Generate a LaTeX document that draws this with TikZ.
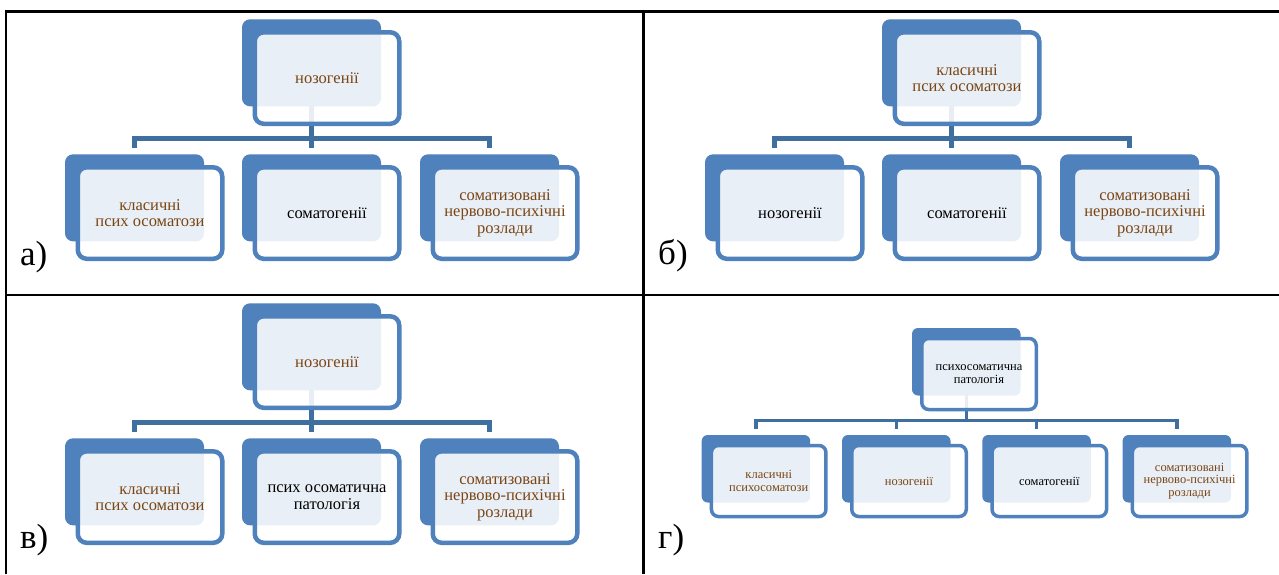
\documentclass[tikz,border=0pt]{standalone}
\usepackage{fontspec}
\setmainfont{Liberation Serif}
\definecolor{sblue}{HTML}{4F81BD}
\definecolor{cblue}{HTML}{3F6F9F}
\definecolor{brn}{HTML}{7A4514}
\newcommand\txtA{\fontsize{16.5}{16.7}\selectfont}
\newcommand\txtB{\fontsize{12.5}{12.4}\selectfont}
\newcommand\labf{\fontsize{35}{35}\selectfont}
\pgfdeclarelayer{paper}
\pgfdeclarelayer{wires}
\pgfsetlayers{paper,wires,main}
\begin{document}
\begin{tikzpicture}[x=1pt,y=-1pt,
  bkA/.style={rectangle, rounded corners=8pt, fill=sblue, draw=none, inner sep=0pt, outer sep=0pt,
    minimum width=139pt, minimum height=87pt, anchor=north west},
  frA/.style={rectangle, rounded corners=9pt, draw=sblue, line width=4.5pt, fill=white,
    fill opacity=0.88, text opacity=1, inner sep=0pt, outer sep=0pt,
    minimum width=144.5pt, minimum height=91.5pt, anchor=north west, align=center, font=\txtA},
  bkB/.style={rectangle, rounded corners=6pt, fill=sblue, draw=none, inner sep=0pt, outer sep=0pt,
    minimum width=108.5pt, minimum height=67.5pt, anchor=north west},
  frB/.style={rectangle, rounded corners=7pt, draw=sblue, line width=3.5pt, fill=white,
    fill opacity=0.88, text opacity=1, inner sep=0pt, outer sep=0pt,
    minimum width=114.5pt, minimum height=71pt, anchor=north west, align=center, font=\txtB},
  connA/.style={draw=cblue, line width=5pt, line join=miter},
  connB/.style={draw=cblue, line width=3.5pt, line join=miter},
  lab/.style={font=\labf, anchor=base west, inner sep=0pt},
  grid/.style={draw=black, line width=2.6pt}
]
\useasboundingbox (0,0) rectangle (1279,574);
\begin{pgfonlayer}{paper}
\fill[white] (0,0) rectangle (1279,574);
\end{pgfonlayer}

% table lines
\draw[grid] (5,11.5) -- (1279,11.5);
\draw[grid] (5,295) -- (1279,295);
\draw[grid] (6,10.2) -- (6,574);
\draw[grid] (643.5,10.2) -- (643.5,574);

% ---------- panel a ----------
\coordinate (aBar) at (0,138);
\node[bkA] (a1b) at (242,19.3) {};
\node[bkA] (a2b) at (65,154.3) {};
\node[bkA] (a3b) at (242,154.3) {};
\node[bkA] (a4b) at (420,154.3) {};
\begin{pgfonlayer}{wires}
\draw[connA, shorten >=6pt] (a1b.center) -- (a3b.north);
\draw[connA, shorten <=6pt, shorten >=6pt] (a2b.north) -- (a2b.north |- aBar) -- (a4b.north |- aBar) -- (a4b.north);
\end{pgfonlayer}
\node[frA, text=brn] (a1) at ([shift={(12.75pt,-13pt)}]a1b.north west) {нозогенії};
\node[frA, text=brn] (a2) at ([shift={(12.75pt,-13pt)}]a2b.north west) {класичні\\псих осоматози};
\node[frA, text=black] (a3) at ([shift={(12.75pt,-13pt)}]a3b.north west) {соматогенії};
\node[frA, text=brn] (a4) at ([shift={(12.75pt,-13pt)}]a4b.north west) {соматизовані\\нервово-психічні\\розлади};
\node[lab] (la) at (20,265) {а)};

% ---------- panel b ----------
\begin{scope}[xshift=640pt]
\coordinate (bBar) at (0,138);
\node[bkA] (b1b) at (242,19.3) {};
\node[bkA] (b2b) at (65,154.3) {};
\node[bkA] (b3b) at (242,154.3) {};
\node[bkA] (b4b) at (420,154.3) {};
\begin{pgfonlayer}{wires}
\draw[connA, shorten >=6pt] (b1b.center) -- (b3b.north);
\draw[connA, shorten <=6pt, shorten >=6pt] (b2b.north) -- (b2b.north |- bBar) -- (b4b.north |- bBar) -- (b4b.north);
\end{pgfonlayer}
\node[frA, text=brn] (b1) at ([shift={(12.75pt,-13pt)}]b1b.north west) {класичні\\псих осоматози};
\node[frA, text=black] (b2) at ([shift={(12.75pt,-13pt)}]b2b.north west) {нозогенії};
\node[frA, text=black] (b3) at ([shift={(12.75pt,-13pt)}]b3b.north west) {соматогенії};
\node[frA, text=brn] (b4) at ([shift={(12.75pt,-13pt)}]b4b.north west) {соматизовані\\нервово-психічні\\розлади};
\node[lab] (lb) at (18,264) {б)};
\end{scope}

% ---------- panel v ----------
\begin{scope}[yshift=-284pt]
\coordinate (vBar) at (0,138);
\node[bkA] (v1b) at (242,19.3) {};
\node[bkA] (v2b) at (65,154.3) {};
\node[bkA] (v3b) at (242,154.3) {};
\node[bkA] (v4b) at (420,154.3) {};
\begin{pgfonlayer}{wires}
\draw[connA, shorten >=6pt] (v1b.center) -- (v3b.north);
\draw[connA, shorten <=6pt, shorten >=6pt] (v2b.north) -- (v2b.north |- vBar) -- (v4b.north |- vBar) -- (v4b.north);
\end{pgfonlayer}
\node[frA, text=brn] (v1) at ([shift={(12.75pt,-13pt)}]v1b.north west) {нозогенії};
\node[frA, text=brn] (v2) at ([shift={(12.75pt,-13pt)}]v2b.north west) {класичні\\псих осоматози};
\node[frA, text=black] (v3) at ([shift={(12.75pt,-13pt)}]v3b.north west) {псих осоматична\\патологія};
\node[frA, text=brn] (v4) at ([shift={(12.75pt,-13pt)}]v4b.north west) {соматизовані\\нервово-психічні\\розлади};
\node[lab] (lv) at (20,264) {в)};
\end{scope}

% ---------- panel g ----------
\coordinate (gBar) at (0,420.7);
\node[bkB] (g0b) at (912,328) {};
\node[bkB] (g1b) at (701.7,435) {};
\node[bkB] (g2b) at (842,435) {};
\node[bkB] (g3b) at (982.3,435) {};
\node[bkB] (g4b) at (1122.6,435) {};
\begin{pgfonlayer}{wires}
\draw[connB] (g0b.center) -- (g0b.center |- gBar);
\draw[connB, shorten <=6pt, shorten >=6pt] (g1b.north) -- (g1b.north |- gBar) -- (g4b.north |- gBar) -- (g4b.north);
\draw[connB, shorten <=6pt] (g2b.north) -- (g2b.north |- gBar);
\draw[connB, shorten <=6pt] (g3b.north) -- (g3b.north |- gBar);
\end{pgfonlayer}
\node[frB, text=black] (g0) at ([shift={(9.75pt,-10.5pt)}]g0b.north west) {психосоматична\\патологія};
\node[frB, text=brn] (g1) at ([shift={(9.75pt,-10.5pt)}]g1b.north west) {класичні\\психосоматози};
\node[frB, text=brn] (g2) at ([shift={(9.75pt,-10.5pt)}]g2b.north west) {нозогенії};
\node[frB, text=black] (g3) at ([shift={(9.75pt,-10.5pt)}]g3b.north west) {соматогенії};
\node[frB, text=brn] (g4) at ([shift={(9.75pt,-10.5pt)}]g4b.north west) {соматизовані\\нервово-психічні\\розлади};
\node[lab] (lg) at (658,548) {г)};
\end{tikzpicture}
\end{document}
